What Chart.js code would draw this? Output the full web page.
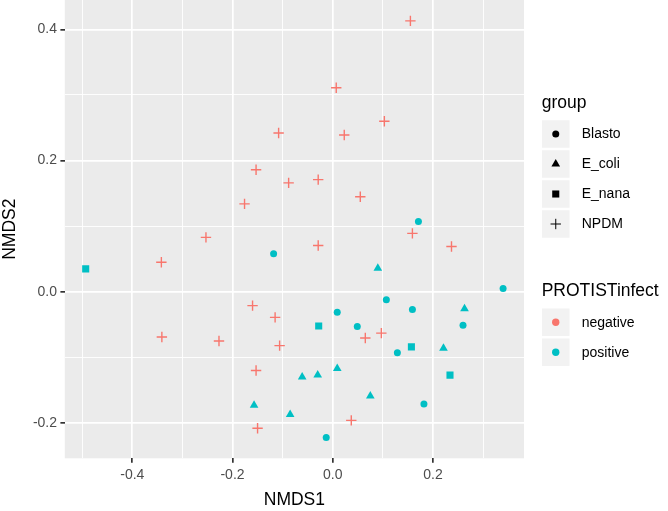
<!DOCTYPE html>
<html><head><meta charset="utf-8">
<script src="https://cdn.jsdelivr.net/npm/chart.js@4"></script>
<style>html,body{margin:0;padding:0;background:#fff}#wrap{width:668px;height:511px;position:relative}</style>
</head><body><div id="wrap"><canvas id="c"></canvas></div>
<script>
// ---- data ----
const groups = ['Blasto', 'E_coli', 'E_nana', 'NPDM'];
const infectLevels = ['negative', 'positive'];
const infectColors = ['#F8766D', '#00BFC4'];

const blastoX = [0.171, -0.118, 0.340, 0.107, 0.009, 0.159, 0.049, 0.260, 0.129, 0.182, -0.013];
const blastoY = [0.107, 0.058, 0.005, -0.012, -0.031, -0.027, -0.053, -0.051, -0.093, -0.171, -0.222];
const blastoInfect = ['positive','positive','positive','positive','positive','positive','positive','positive','positive','positive','positive'];

const ecoliX = [0.090, 0.263, 0.221, 0.009, -0.061, -0.030, 0.075, -0.085, -0.157];
const ecoliY = [0.036, -0.026, -0.086, -0.117, -0.130, -0.127, -0.159, -0.187, -0.173];
const ecoliInfect = ['positive','positive','positive','positive','positive','positive','positive','positive','positive'];

const enanaX = [-0.493, -0.028, 0.157, 0.234];
const enanaY = [0.035, -0.052, -0.084, -0.127];
const enanaInfect = ['positive','positive','positive','positive'];

const npdmX = [0.155, 0.007, -0.108, 0.023, 0.103, -0.153, -0.176, -0.088, -0.029, 0.055, -0.253, -0.342, -0.029, 0.159, 0.237, -0.160, -0.341, -0.227, -0.153, -0.150, -0.115, -0.106, 0.065, 0.097, 0.037];
const npdmY = [0.413, 0.311, 0.242, 0.239, 0.260, 0.186, 0.134, 0.166, 0.171, 0.145, 0.083, 0.045, 0.0705, 0.089, 0.069, -0.021, -0.069, -0.075, -0.120, -0.208, -0.039, -0.082, -0.0705, -0.063, -0.196];
const npdmInfect = Array(25).fill('negative');

const xTickValues = [-0.5, -0.4, -0.3, -0.2, -0.1, 0, 0.1, 0.2, 0.3];
const xTickLabels = ['', '-0.4', '', '-0.2', '', '0.0', '', '0.2', ''];
const yTickValues = [-0.2, -0.1, 0, 0.1, 0.2, 0.3, 0.4];
const yTickLabels = ['-0.2', '', '0.0', '', '0.2', '', '0.4'];
const xTitle = 'NMDS1';
const yTitle = 'NMDS2';
const shapeLegendTitle = 'group';
const colorLegendTitle = 'PROTISTinfect';

// ---- styling ----
const FONT = '"Liberation Sans", Arial, Helvetica, sans-serif';
const xMin = -0.5347, xMax = 0.3817, yMin = -0.2538, yMax = 0.4448;
const shapeStyles = {
  Blasto: {pointStyle: 'circle', radius: 3.5, borderWidth: 0},
  E_coli: {pointStyle: 'triangle', radius: 5, borderWidth: 0},
  E_nana: {pointStyle: 'rect', radius: 5, borderWidth: 0},
  NPDM:   {pointStyle: 'cross', radius: 5.2, borderWidth: 1.4}
};
const colorOf = lvl => infectColors[infectLevels.indexOf(lvl)];

function makeDataset(name, xs, ys, inf) {
  const st = shapeStyles[name];
  const cols = inf.map(colorOf);
  return {
    label: name,
    data: xs.map((x, i) => ({x: x, y: ys[i]})),
    pointStyle: st.pointStyle,
    pointRadius: st.radius,
    pointHoverRadius: st.radius,
    pointBorderWidth: st.borderWidth,
    pointBackgroundColor: cols,
    pointBorderColor: cols,
    showLine: false
  };
}

const datasets = [
  makeDataset('Blasto', blastoX, blastoY, blastoInfect),
  makeDataset('E_coli', ecoliX, ecoliY, ecoliInfect),
  makeDataset('E_nana', enanaX, enanaY, enanaInfect),
  makeDataset('NPDM', npdmX, npdmY, npdmInfect)
];

function drawShape(ctx, st, x, y) {
  if (Chart.helpers && Chart.helpers.drawPoint) {
    Chart.helpers.drawPoint(ctx, {pointStyle: st.pointStyle, radius: st.radius, borderWidth: st.borderWidth, rotation: 0}, x, y);
  } else {
    ctx.beginPath(); ctx.arc(x, y, st.radius, 0, Math.PI * 2); ctx.fill();
  }
}

const panelPlugin = {
  id: 'panelBg',
  beforeDraw(chart) {
    const a = chart.chartArea, ctx = chart.ctx;
    ctx.save();
    ctx.fillStyle = '#EBEBEB';
    ctx.fillRect(a.left, a.top, a.right - a.left, a.bottom - a.top);
    ctx.restore();
  }
};

const legendPlugin = {
  id: 'ggLegend',
  afterDraw(chart) {
    const ctx = chart.ctx;
    ctx.save();
    const keyX = 542, keyW = 27.5, labelX = 581.7;
    // shape legend
    ctx.fillStyle = '#000';
    ctx.textAlign = 'left';
    ctx.textBaseline = 'alphabetic';
    ctx.font = '17.5px ' + FONT;
    ctx.fillText(shapeLegendTitle, 541.7, 107.5);
    groups.forEach((g, i) => {
      const cy = 134 + i * 30;
      ctx.fillStyle = '#F2F2F2';
      ctx.fillRect(keyX, cy - keyW / 2, keyW, keyW);
      ctx.fillStyle = '#000'; ctx.strokeStyle = '#000';
      drawShape(ctx, shapeStyles[g], keyX + keyW / 2, cy);
      ctx.fillStyle = '#000';
      ctx.font = '14px ' + FONT;
      ctx.textBaseline = 'middle';
      ctx.fillText(g, labelX, cy + 0.5);
    });
    // colour legend
    ctx.textBaseline = 'alphabetic';
    ctx.font = '17.5px ' + FONT;
    ctx.fillStyle = '#000';
    ctx.fillText(colorLegendTitle, 541.7, 295.8);
    infectLevels.forEach((lv, i) => {
      const cy = 322.2 + i * 30;
      ctx.fillStyle = '#F2F2F2';
      ctx.fillRect(keyX, cy - keyW / 2, keyW, keyW);
      ctx.fillStyle = infectColors[i]; ctx.strokeStyle = infectColors[i];
      drawShape(ctx, {pointStyle: 'circle', radius: 3.7, borderWidth: 0}, keyX + keyW / 2, cy);
      ctx.fillStyle = '#000';
      ctx.font = '14px ' + FONT;
      ctx.textBaseline = 'middle';
      ctx.fillText(lv, labelX, cy + 0.5);
    });
    ctx.restore();
  }
};

new Chart(document.getElementById('c'), {
  type: 'scatter',
  data: {datasets: datasets},
  plugins: [panelPlugin, legendPlugin],
  options: {
    responsive: true,
    maintainAspectRatio: false,
    animation: false,
    events: [],
    layout: {autoPadding: false, padding: {left: 0, top: 0, right: 144, bottom: 0}},
    plugins: {legend: {display: false}, tooltip: {enabled: false}},
    scales: {
      x: {
        type: 'linear', position: 'bottom', min: xMin, max: xMax,
        afterBuildTicks: s => { s.ticks = xTickValues.map(v => ({value: v})); },
        afterFit: s => { s.height = 52.7; s.paddingLeft = 0; s.paddingRight = 0; },
        ticks: {autoSkip: false, maxRotation: 0, minRotation: 0, padding: 4, color: '#4D4D4D',
          font: {size: 14, family: FONT}, callback: (v, i) => xTickLabels[i]},
        grid: {color: '#FFFFFF', lineWidth: c => xTickLabels[c.index] ? 1.7 : 0.9,
          tickColor: c => xTickLabels[c.index] ? '#333333' : 'rgba(0,0,0,0)', tickLength: 4.4, tickWidth: 1.7},
        border: {display: false},
        title: {display: true, text: xTitle, color: '#000', font: {size: 17.5, family: FONT}, padding: {top: 0, bottom: 0.6}}
      },
      y: {
        type: 'linear', position: 'left', min: yMin, max: yMax,
        afterBuildTicks: s => { s.ticks = yTickValues.map(v => ({value: v})); },
        afterFit: s => { s.width = 64.8; s.paddingTop = 0; s.paddingBottom = 0; },
        ticks: {autoSkip: false, padding: 3.4, color: '#4D4D4D',
          font: {size: 14, family: FONT}, callback: (v, i) => yTickLabels[i]},
        grid: {color: '#FFFFFF', lineWidth: c => yTickLabels[c.index] ? 1.7 : 0.9,
          tickColor: c => yTickLabels[c.index] ? '#333333' : 'rgba(0,0,0,0)', tickLength: 4.4, tickWidth: 1.7},
        border: {display: false},
        title: {display: true, text: yTitle, color: '#000', font: {size: 17.5, family: FONT}, padding: {top: 0, bottom: 0}}
      }
    }
  }
});
</script>
</body></html>
